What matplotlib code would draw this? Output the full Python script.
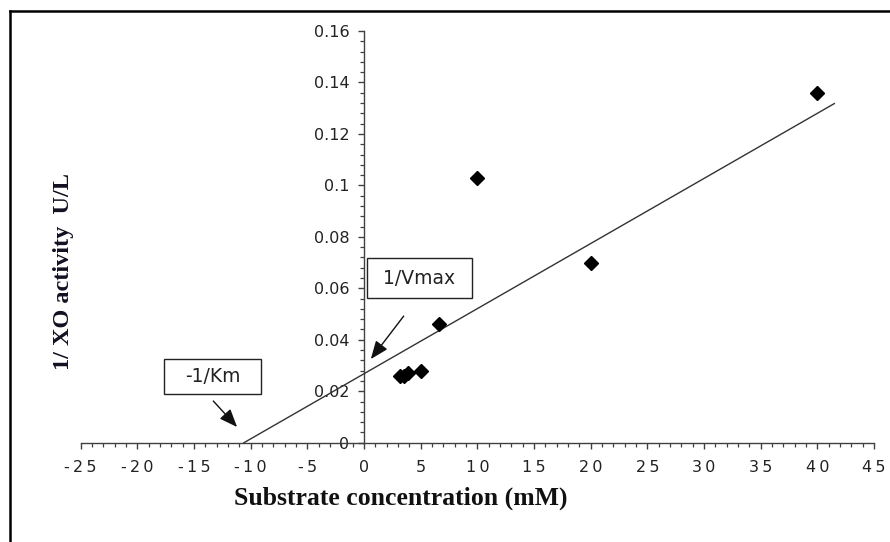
import matplotlib
matplotlib.use("Agg")
import matplotlib.pyplot as plt
from matplotlib.patches import Rectangle
from matplotlib.lines import Line2D
import numpy as np

# ---- data ----
substrate_mM = [3.2, 3.5, 3.9, 5.0, 6.6, 10.0, 20.0, 40.0]
inv_activity = [0.026, 0.026, 0.027, 0.028, 0.046, 0.103, 0.070, 0.136]

trend_slope = 0.00253
trend_intercept = 0.0268
trend_x = [-10.6, 41.5]

x_ticks = [-25, -20, -15, -10, -5, 0, 5, 10, 15, 20, 25, 30, 35, 40, 45]
x_tick_labels = ["-25", "-20", "-15", "-10", "-5", "0", "5", "10", "15", "20",
                 "25", "30", "35", "40", "45"]
y_ticks = [0, 0.02, 0.04, 0.06, 0.08, 0.1, 0.12, 0.14, 0.16]
y_tick_labels = ["0", "0.02", "0.04", "0.06", "0.08", "0.1", "0.12", "0.14", "0.16"]

x_label = "Substrate concentration (mM)"
y_label = "1/ XO activity  U/L"
vmax_label = "1/Vmax"
km_label = "-1/Km"

# ---- figure ----
W, H = 890, 542
fig = plt.figure(figsize=(W / 100, H / 100), dpi=100)
ax = fig.add_axes([80.7 / W, (H - 442.7) / H, 793.3 / W, 411.7 / H])
ax.set_xlim(-25, 45)
ax.set_ylim(0, 0.16)

for s in ("top", "right"):
    ax.spines[s].set_visible(False)
ax.spines["left"].set_position(("data", 0))
ax.spines["left"].set_color("#404040")
ax.spines["bottom"].set_color("#404040")
ax.spines["left"].set_linewidth(1.0)
ax.spines["bottom"].set_linewidth(1.0)

ax.set_xticks(x_ticks)
ax.set_xticklabels(["\u2009".join(lbl) for lbl in x_tick_labels])
ax.set_yticks(y_ticks)
ax.set_yticklabels(y_tick_labels)
ax.set_xticks(np.arange(-25, 46, 1), minor=True)
ax.set_yticks(np.arange(0, 0.1601, 0.004), minor=True)
ax.tick_params(axis="both", which="major", direction="out", length=4.5, width=1.0,
               color="#404040", labelsize=11.5, labelcolor="#222222")
ax.tick_params(axis="both", which="minor", direction="out", length=3, width=0.9,
               color="#404040")
ax.tick_params(axis="x", which="major", pad=8)
ax.tick_params(axis="y", which="major", pad=6)

# trend line
tx = np.array(trend_x)
ax.plot(tx, trend_slope * tx + trend_intercept, color="#333333", lw=1.0,
        clip_on=False, zorder=3)

# data points
ax.plot(substrate_mM, inv_activity, linestyle="none", marker="D", ms=7,
        color="black", zorder=4, clip_on=False)

# annotation boxes
def boxed(ax, x0, x1, y0, y1, text):
    ax.add_patch(Rectangle((x0, y0), x1 - x0, y1 - y0, facecolor="white",
                           edgecolor="#222222", lw=1.0, zorder=5, clip_on=False))
    ax.text((x0 + x1) / 2, (y0 + y1) / 2, text, ha="center", va="center",
            fontsize=13.5, color="#222222", zorder=6)

boxed(ax, 0.26, 9.5, 0.0562, 0.0718, vmax_label)
boxed(ax, -17.65, -9.1, 0.0189, 0.0325, km_label)

arrow = dict(arrowstyle="-|>,head_length=0.55,head_width=0.22", color="#111111",
             lw=1.0, mutation_scale=20, shrinkA=0, shrinkB=0)
ax.annotate("", xy=(0.6, 0.0325), xytext=(3.5, 0.0492), arrowprops=arrow, zorder=6)
ax.annotate("", xy=(-11.2, 0.0061), xytext=(-13.3, 0.0162), arrowprops=arrow, zorder=6)

# axis labels
fig.text(401 / W, 1 - 498 / H, x_label, ha="center", va="center",
         fontsize=18.5, fontweight="bold", family="Liberation Serif", color="#111111")
fig.text(63 / W, 1 - 271 / H, y_label, ha="center", va="center", rotation=90,
         fontsize=17.5, fontweight="bold", family="Liberation Serif", color="#111122")

# outer frame (cut off at right and bottom)
fig.add_artist(Line2D([10 / W, 10 / W], [1 - 11 / H, 0], transform=fig.transFigure,
                      color="black", lw=1.8))
fig.add_artist(Line2D([10 / W, 1], [1 - 11 / H, 1 - 11 / H], transform=fig.transFigure,
                      color="black", lw=1.8))

fig.savefig("out.png", dpi=100)
